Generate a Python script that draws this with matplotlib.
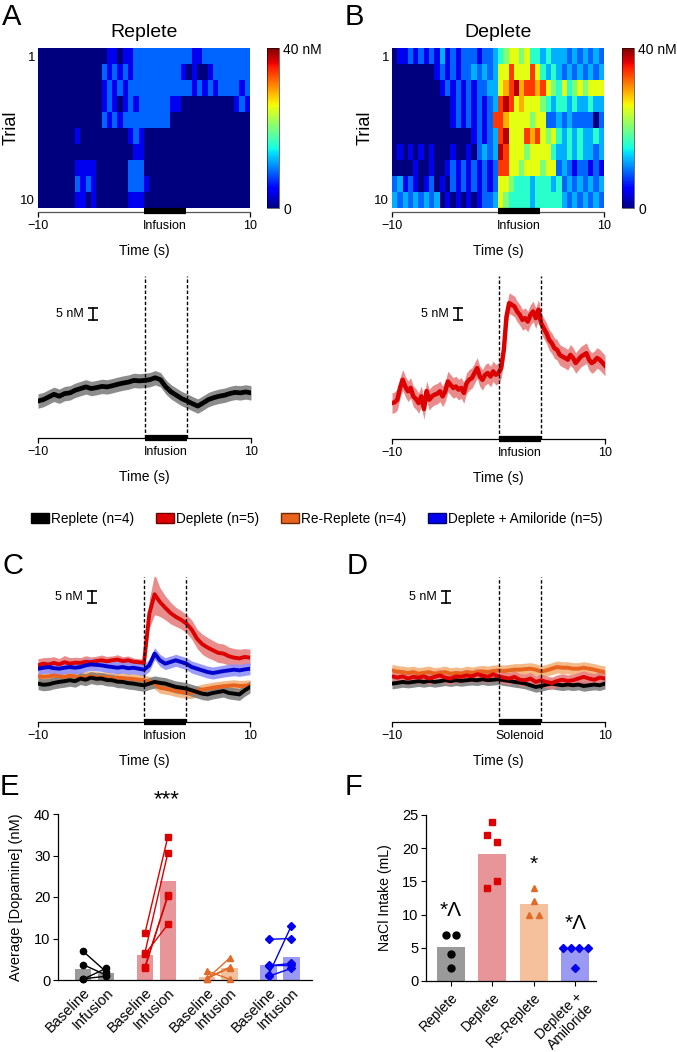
import numpy as np
import matplotlib.pyplot as plt
from matplotlib.patches import Patch
from matplotlib.transforms import blended_transform_factory as blend

plt.rcParams['font.family'] = ['Liberation Sans', 'DejaVu Sans']
plt.rcParams['axes.linewidth'] = 0.9

W, H = 677, 1052

# heatmaps: one character per 0.5 s bin from -10 to 10 s, digit -> level below (nM)
levels_nM = [0, 4, 9, 12, 16, 20, 25, 29, 34, 38]
replete_rows = [
    "0000000000000110112222222222211222222222",
    "0000000000002121212222222221010012222222",
    "0000000000001212122222222222212121222212",
    "0000000000001210121222222110000000000121",
    "0000000000002121222222222000000000000000",
    "0000000100000000012100000000000000000000",
    "0000000000000000001100000000000000000000",
    "0000000111100000022200000000000000000000",
    "0000000212100000022210000000000000000000",
    "0000000110100000011100000000000000000000",
]
deplete_rows = [
    "0112121213121222122345665644343332323232",
    "0000000012121223232366866686434323232323",
    "0000000001212121223367897887865464565666",
    "0000000000012121212389867666543443433433",
    "0000000000012121212887666656622323222202",
    "0000000000000001212389666878656434343343",
    "0101010100010010232398666566664334343323",
    "0000100100121212121288665666566232122121",
    "2312101201021212121266544434443423232323",
    "3232323230101010122365444434444432323232",
]

# mean traces in nM (arbitrary offset), 0.5 s steps (B: 0.25 s steps)
a_replete = [15.4, 16.0, 17.1, 18.2, 17.4, 18.5, 18.8, 19.9, 20.6, 21.3,
             20.6, 21.0, 21.5, 21.3, 21.8, 22.4, 22.9, 23.3, 24.0, 23.8, 24.0,
             24.3, 25.1, 24.3, 21.3, 19.2, 17.8, 16.4, 15.4, 14.3, 13.3,
             14.6, 16.0, 16.8, 17.4, 17.8, 18.5, 19.0, 18.8, 19.2, 18.8]
b_deplete = [15.0, 15.3, 16.4, 21.3, 24.7, 21.9, 19.9, 21.3, 17.8, 16.7,
             15.0, 17.8, 12.5, 20.0, 16.4, 17.8, 18.5, 18.9, 19.9, 17.8,
             19.9, 24.0, 22.6, 21.3, 21.9, 20.6, 21.3, 19.2, 23.3, 24.7,
             25.4, 27.5, 29.6, 26.1, 24.7, 26.8, 27.5, 26.1, 28.2, 26.8, 27.5,
             29.6, 37.2, 51.1, 56.7, 56.0, 55.3, 53.2, 51.8, 49.7, 50.4,
             49.0, 51.8, 53.2, 50.4, 53.9, 48.3, 46.2, 44.2, 41.4, 40.0,
             37.9, 37.2, 35.1, 34.4, 33.8, 33.1, 35.1, 33.8, 31.7, 33.1,
             34.4, 35.1, 35.8, 33.1, 31.7, 32.4, 33.8, 33.1, 31.9, 30.6]
c_replete = [16.0, 15.5, 15.7, 16.3, 16.7, 17.0, 17.4, 17.0, 18.1, 17.6,
             18.5, 18.0, 18.1, 17.5, 17.4, 16.8, 16.7, 16.2, 16.0, 15.6, 15.3,
             16.0, 16.7, 16.3, 16.0, 15.3, 14.6, 14.3, 13.9, 13.2, 12.5,
             11.8, 11.5, 12.1, 12.5, 12.9, 12.1, 11.8, 11.5, 13.2, 14.6]
c_deplete = [23.6, 24.3, 23.9, 24.6, 24.0, 24.9, 24.3, 24.7, 24.6, 25.1,
             24.9, 25.4, 25.7, 25.3, 25.7, 26.0, 25.4, 25.7, 25.1, 24.9, 24.6,
             45.1, 53.2, 50.0, 47.6, 45.4, 43.8, 42.6, 41.0, 38.5, 34.7,
             32.4, 31.0, 29.9, 28.8, 28.5, 27.4, 26.8, 26.5, 27.1, 26.8]
c_deplete_sem = [2.8, 2.5, 3.0, 2.6, 2.4, 2.8, 2.5, 2.3, 2.2, 2.5,
                 2.2, 2.0, 2.2, 2.0, 1.8, 2.0, 1.8, 1.8, 1.6, 1.5, 1.5,
                 6.0, 8.5, 6.0, 5.0, 4.5, 4.0, 3.8, 3.8, 4.0, 4.0,
                 4.2, 4.2, 4.0, 4.0, 4.0, 3.8, 3.8, 3.8, 3.5, 3.5]
c_rereplete = [19.0, 18.8, 19.0, 19.4, 19.0, 18.8, 19.3, 19.0, 18.5, 18.8,
               19.0, 18.8, 18.5, 18.8, 18.1, 18.5, 18.2, 18.1, 17.9, 17.6, 17.4,
               16.7, 16.0, 14.3, 13.9, 13.5, 12.9, 12.5, 12.1, 12.1, 12.9,
               13.5, 13.9, 14.3, 14.6, 14.9, 15.1, 15.3, 15.0, 15.1, 15.3]
c_amiloride = [22.2, 22.6, 22.9, 22.4, 22.2, 22.6, 22.9, 22.6, 22.9, 23.6,
               24.0, 23.8, 23.6, 23.2, 22.9, 22.6, 22.9, 22.4, 22.6, 22.2, 21.8,
               23.6, 28.5, 25.7, 24.3, 25.0, 25.7, 25.0, 24.3, 22.9, 22.2,
               21.5, 20.8, 20.4, 20.8, 21.2, 21.5, 21.8, 21.5, 21.9, 22.2]
d_replete = [16.0, 16.3, 16.7, 16.4, 16.7, 17.0, 16.7, 17.1, 16.7, 17.0,
             17.4, 17.0, 17.4, 17.1, 17.4, 17.6, 17.4, 17.8, 17.4, 17.6, 17.8,
             17.4, 17.1, 16.7, 16.4, 16.0, 15.3, 14.6, 15.0, 15.6, 16.0,
             15.6, 15.3, 15.6, 15.3, 15.6, 15.0, 15.3, 15.6, 15.3, 16.0]
d_deplete = [19.0, 18.5, 19.0, 18.1, 18.8, 18.5, 19.0, 18.1, 18.8, 19.4,
             18.5, 18.1, 19.0, 18.8, 19.4, 19.0, 19.9, 19.4, 18.8, 19.9, 19.0,
             18.5, 18.1, 18.8, 17.6, 17.4, 18.1, 16.7, 17.4, 16.7, 16.2,
             17.1, 17.6, 17.1, 17.4, 18.1, 18.8, 18.1, 17.6, 18.5, 18.1]
d_rereplete = [21.5, 21.0, 20.8, 20.4, 20.8, 20.1, 20.5, 20.8, 20.1, 20.4,
               20.8, 20.1, 20.4, 20.1, 20.8, 20.4, 20.8, 21.1, 20.8, 21.2, 21.5,
               21.2, 21.5, 21.8, 21.8, 22.0, 22.2, 21.8, 21.0, 21.5, 22.2,
               22.9, 22.6, 22.6, 22.2, 22.2, 22.6, 22.2, 21.8, 21.2, 20.8]

# panel E: average dopamine per animal (nM)
e_labels = ['Baseline', 'Infusion']
e_replete = ([6.9, 3.7, 0.2, 0.3], [2.0, 1.2, 2.8, 0.9])
e_deplete = ([11.3, 6.6, 3.2, 2.9, 6.2], [34.5, 30.6, 20.4, 20.2, 13.4])
e_rereplete = ([2.2, 0.2, 0.4, 0.3], [0.2, 5.3, 3.1, 2.9])
e_amiloride = ([9.8, 3.7, 3.4, 1.2, 0.9], [10.0, 3.7, 4.0, 13.1, 2.8])
e_bar_base = [2.7, 6.1, 0.8, 3.5]
e_bar_inf = [1.8, 23.8, 3.0, 5.6]

# panel F: NaCl intake (mL)
f_labels = ['Replete', 'Deplete', 'Re-Replete', 'Deplete +\nAmiloride']
f_replete = [7, 7, 4, 2]
f_deplete = [24, 22, 21, 15, 14]
f_rereplete = [14, 12, 10, 10]
f_amiloride = [5, 5, 5, 5, 2]
f_bars = [5.1, 19.2, 11.6, 4.8]
f_marks = ['*\u039b', '', '*', '*\u039b']

t41 = np.linspace(-10, 10, 41)
t81 = np.linspace(-10, 10, 81)

fig = plt.figure(figsize=(W / 100, H / 100), dpi=100)


def rect(x0, y0, x1, y1):
    return [x0 / W, 1 - y1 / H, (x1 - x0) / W, (y1 - y0) / H]


def heatmap(r, cr, rows, title):
    ax = fig.add_axes(r)
    vals = np.array([[levels_nM[int(c)] for c in row] for row in rows], float)
    im = ax.imshow(vals, cmap='jet', vmin=0, vmax=40,
                   aspect='auto', interpolation='nearest',
                   extent=(-10, 10, 10.5, 0.5))
    for s in ['left', 'top', 'right']:
        ax.spines[s].set_visible(False)
    ax.spines['bottom'].set_position(('outward', 3))
    ax.spines['bottom'].set_color('#555555')
    ax.set_yticks([1, 10])
    ax.set_yticklabels(['1', '10'], fontsize=9.5)
    ax.tick_params(axis='y', length=0, pad=2)
    ax.set_xticks([-10, 2, 10])
    ax.set_xticklabels(['\u221210', 'Infusion', '10'])
    ax.xaxis.get_major_ticks()[1].tick1line.set_visible(False)
    ax.tick_params(axis='x', length=3.5, width=0.9, labelsize=9, pad=2)
    ax.plot([0, 4], [10.69, 10.69], color='k', lw=4.5, solid_capstyle='butt',
            clip_on=False, zorder=5)
    ax.set_xlim(-10, 10)
    ax.set_ylim(10.5, 0.5)
    ax.set_xlabel('Time (s)', fontsize=10, labelpad=9)
    ax.set_ylabel('Trial', fontsize=13)
    ax.yaxis.set_label_coords(-0.085, 0.5)
    ax.set_title(title, fontsize=14, pad=8)
    cax = fig.add_axes(cr)
    cb = fig.colorbar(im, cax=cax, ticks=[0, 40])
    cb.ax.set_yticklabels(['0', '40 nM'])
    cb.ax.tick_params(length=0, labelsize=10, pad=3)
    cb.outline.set_linewidth(0.4)
    return ax


def trace_axes(r, ytop, event):
    ax = fig.add_axes(r)
    ax.set_xlim(-10, 10)
    ax.set_ylim(0, ytop)
    for s in ['left', 'top', 'right']:
        ax.spines[s].set_visible(False)
    ax.set_yticks([])
    ax.set_xticks([-10, 2, 10])
    ax.set_xticklabels(['\u221210', event, '10'])
    ax.xaxis.get_major_ticks()[1].tick1line.set_visible(False)
    ax.tick_params(axis='x', length=3.5, width=0.9, labelsize=9, pad=2)
    ax.set_xlabel('Time (s)', fontsize=10, labelpad=9)
    for x in (0, 4):
        ax.axvline(x, color='k', lw=1, ls=(0, (2.5, 1.5)), zorder=4)
    ax.plot([0, 4], [0, 0], color='k', lw=4.5, solid_capstyle='butt',
            clip_on=False, zorder=5)
    return ax


def scale_bar(ax, xf, y0):
    tr = blend(ax.transAxes, ax.transData)
    ax.plot([xf, xf], [y0, y0 + 5], color='k', lw=1.2, transform=tr,
            marker='_', ms=7, mew=1.2)
    ax.text(xf - 0.045, y0 + 2.5, '5 nM', transform=tr, ha='right',
            va='center', fontsize=9)


def traces(ax, t, series, lw=2.8):
    for m, s, line, band in series:
        m = np.array(m)
        ax.fill_between(t, m - np.array(s), m + np.array(s), color=band,
                        lw=0, alpha=0.9)
    for m, s, line, band in series:
        ax.plot(t, m, color=line, lw=lw)


# heatmaps
heatmap(rect(38, 48, 250, 208), rect(267, 48, 279, 208), replete_rows, 'Replete')
heatmap(rect(392, 48, 604, 208), rect(622, 48, 634, 208), deplete_rows, 'Deplete')

# single traces
ax_a = trace_axes(rect(38, 276, 251, 438), 67.5, 'Infusion')
traces(ax_a, t41, [(a_replete, 3.0, 'black', '#808080')], lw=3.4)
scale_bar(ax_a, 0.258, 49.2)

ax_b = trace_axes(rect(392, 276, 605, 439), 68, 'Infusion')
traces(ax_b, t81, [(b_deplete, 4.3, '#dd0000', '#e88080')], lw=3.2)
scale_bar(ax_b, 0.31, 49.6)

# group traces
ax_c = trace_axes(rect(38, 577, 250, 722), 60.4, 'Infusion')
traces(ax_c, t41, [(c_deplete, c_deplete_sem, '#dd0000', '#e68080'),
                   (c_rereplete, 2.3, '#e8641e', '#f2b27a'),
                   (c_replete, 2.5, 'black', '#808080'),
                   (c_amiloride, 2.5, '#0000cc', '#9090fa')])
scale_bar(ax_c, 0.255, 49.5)

ax_d = trace_axes(rect(392, 577, 605, 722), 60.4, 'Solenoid')
traces(ax_d, t41, [(d_replete, 2.2, 'black', '#808080'),
                   (d_rereplete, 2.5, '#e8641e', '#f2b27a'),
                   (d_deplete, 2.5, '#dd0000', '#e88080')])
scale_bar(ax_d, 0.254, 49.5)

handles = [Patch(facecolor='black', edgecolor='black', label='Replete (n=4)'),
           Patch(facecolor='#dd0000', edgecolor='#700000', label='Deplete (n=5)'),
           Patch(facecolor='#e8641e', edgecolor='#6a2a08', label='Re-Replete (n=4)'),
           Patch(facecolor='#0000ee', edgecolor='#000070', label='Deplete + Amiloride (n=5)')]
fig.legend(handles=handles, loc='center', bbox_to_anchor=(317 / W, 1 - 519 / H),
           ncol=4, frameon=False, fontsize=9.8, handlelength=1.32,
           handleheight=0.75, handletextpad=0.15, columnspacing=1.6)

# panel E
ax_e = fig.add_axes(rect(58, 814, 312, 980))
e_groups = [(e_replete, 'black', '#9a9a9a', 'o'),
            (e_deplete, '#dd0000', '#e8959a', 's'),
            (e_rereplete, '#e06a28', '#f5c09c', '^'),
            (e_amiloride, '#0000ee', '#9a9af5', 'D')]
e_x0 = [0, 2.7, 5.4, 8.1]
for i, ((base, inf), col, barcol, mk) in enumerate(e_groups):
    x0 = e_x0[i]
    ax_e.bar([x0, x0 + 1], [e_bar_base[i], e_bar_inf[i]], width=0.72,
             color=barcol, zorder=1)
    for b, f in zip(base, inf):
        ax_e.plot([x0, x0 + 1], [b, f], color=col, marker=mk,
                  ms=4.5 if mk != 'D' else 4, lw=1, zorder=3, clip_on=False)
ax_e.set_xticks([x + d for x in e_x0 for d in (0, 1)])
ax_e.set_xticklabels(e_labels * 4, rotation=45, ha='right',
                     rotation_mode='anchor', fontsize=10.5)
ax_e.set_xlim(-1.1, 10.0)
ax_e.set_ylim(0, 40)
ax_e.set_yticks([0, 10, 20, 30, 40])
ax_e.tick_params(axis='y', labelsize=10.5, length=3.5, pad=2)
ax_e.tick_params(axis='x', length=0, pad=4)
ax_e.spines['top'].set_visible(False)
ax_e.spines['right'].set_visible(False)
ax_e.set_ylabel('Average [Dopamine] (nM)', fontsize=10.5)
ax_e.yaxis.set_label_coords(-0.138, 0.5)
ax_e.text(3.65, 41, '***', ha='center', va='bottom', fontsize=16)

# panel F
ax_f = fig.add_axes(rect(426, 815, 596, 981))
f_groups = [(f_replete, [-0.12, 0.12, 0, 0], 'black', '#9a9a9a', 'o'),
            (f_deplete, [0, -0.12, 0.12, 0.12, -0.12], '#dd0000', '#e8959a', 's'),
            (f_rereplete, [0, 0, -0.12, 0.12], '#e06a28', '#f5c09c', '^'),
            (f_amiloride, [-0.3, -0.1, 0.1, 0.3, 0], '#0000ee', '#9a9af5', 'D')]
for i, (vals, offs, col, barcol, mk) in enumerate(f_groups):
    ax_f.bar(i, f_bars[i], width=0.68, color=barcol, zorder=1)
    ax_f.plot(np.array(offs) + i, vals, ls='none', marker=mk, color=col,
              ms=5 if mk != 'D' else 4.5, zorder=3)
for i, mark in enumerate(f_marks):
    if mark:
        top = max(f_groups[i][0])
        ax_f.text(i, top + 2.2, mark, ha='center', va='bottom', fontsize=15)
ax_f.set_xlim(-0.6, 3.5)
ax_f.set_ylim(0, 25)
ax_f.set_yticks([0, 5, 10, 15, 20, 25])
ax_f.set_xticks(range(4))
ax_f.set_xticklabels(f_labels, rotation=45, ha='right', rotation_mode='anchor',
                     fontsize=10)
ax_f.tick_params(axis='y', labelsize=10.5, length=3.5, pad=2)
ax_f.tick_params(axis='x', length=3.5, pad=3)
ax_f.spines['top'].set_visible(False)
ax_f.spines['right'].set_visible(False)
ax_f.set_ylabel('NaCl Intake (mL)', fontsize=10.2)
ax_f.yaxis.set_label_coords(-0.2, 0.5)

# panel letters
for letter, x, y in [('A', 2, 3), ('B', 345, 3), ('C', 2, 552), ('D', 347, 552),
                     ('E', 0, 773), ('F', 345, 773)]:
    fig.text(x / W, 1 - y / H, letter, fontsize=21, va='top', ha='left')

fig.savefig('out.png', dpi=100)
